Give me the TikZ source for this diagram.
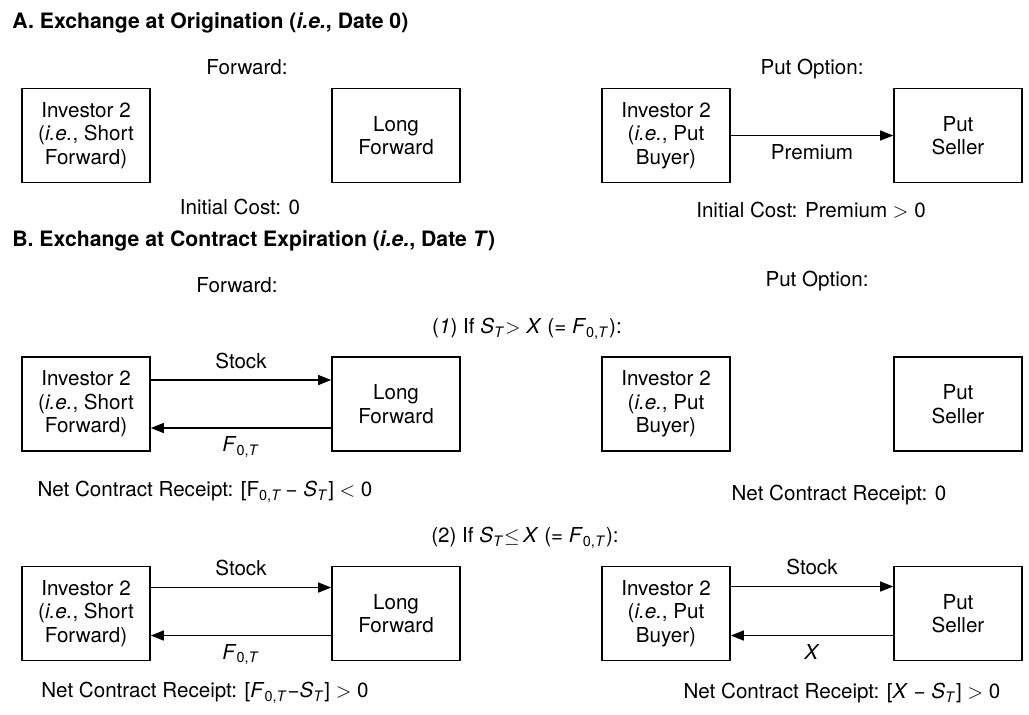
\documentclass[tikz,border=0pt]{standalone}
\usepackage{fontspec}
\setmainfont{TeX Gyre Heros}
\usetikzlibrary{arrows.meta}
\newcommand{\bodyfont}{\fontsize{10.3}{11.8}\selectfont}
\newcommand{\headfont}{\fontsize{10.6}{12}\selectfont\bfseries}
\newcommand{\isub}[2]{\textit{#1}\textsubscript{\textit{#2}}}
\newcommand{\fwdprice}{\textit{F}\textsubscript{0,\textit{T}}}
\tikzset{
 heading/.style={anchor=west,inner sep=0,font=\headfont},
 caption/.style={inner sep=0,font=\bodyfont},
 party/.style={draw,line width=.8pt,minimum width=64pt,minimum height=47pt,inner sep=0,align=center,font=\bodyfont},
 flow/.style={line width=.6pt,-{Triangle[length=6.5pt,width=5pt]}},
 flowlabel/.style={inner sep=0,font=\bodyfont}
}
\begin{document}
\begin{tikzpicture}[x=.5pt,y=-.5pt]
\path[use as bounding box,fill=white] (0,0) rectangle (1029,714);
% A. exchange at origination
\node[heading] (titleA) at (12,23) {A. Exchange at Origination (\textit{i.e.}, Date 0)};
\node[caption] (fwdA) at (247,67) {Forward:};
\node[caption] (putA) at (812,69) {Put Option:};
\node[party] (shortA) at (86,135.5) {Investor 2\\(\textit{i.e.}, Short\\Forward)};
\node[party] (longA) at (396,135.5) {Long\\Forward};
\node[party] (buyerA) at (666,135.5) {Investor 2\\(\textit{i.e.}, Put\\Buyer)};
\node[party] (sellerA) at (958,135.5) {Put\\Seller};
\draw[flow] (buyerA) -- node[flowlabel,below=4pt] {Premium} (sellerA);
\node[caption] (costfwd) at (240,207) {Initial Cost: 0};
\node[caption] (costput) at (811,210) {Initial Cost: Premium $>$ 0};
% B. exchange at expiration
\node[heading] (titleB) at (12,241) {B. Exchange at Contract Expiration (\textit{i.e.}, Date \textit{T})};
\node[caption] (fwdB) at (237,285) {Forward:};
\node[caption] (putB) at (817,281) {Put Option:};
\node[caption] (caseone) at (527,329) {(\textit{1}) If \isub{S}{T}$>$ \textit{X} (= \fwdprice):};
% case 1
\node[party] (shortB) at (86,404) {Investor 2\\(\textit{i.e.}, Short\\Forward)};
\node[party] (longB) at (396,404) {Long\\Forward};
\node[party] (buyerB) at (666,404) {Investor 2\\(\textit{i.e.}, Put\\Buyer)};
\node[party] (sellerB) at (958,404) {Put\\Seller};
\draw[flow] ([yshift=12pt]shortB.east) -- node[flowlabel,above=5.5pt] {Stock} ([yshift=12pt]longB.west);
\draw[flow] ([yshift=-12pt]longB.west) -- node[flowlabel,below=4pt] {\fwdprice} ([yshift=-12pt]shortB.east);
\node[caption] (netfwdB) at (205,492) {Net Contract Receipt: [F\textsubscript{0,\textit{T}}\,− \isub{S}{T}] $<$ 0};
\node[caption] (netputB) at (839,495) {Net Contract Receipt: 0};
% case 2
\node[caption] (casetwo) at (525,538) {(2) If \isub{S}{T}$\leq$\,\textit{X} (= \fwdprice):};
\node[party] (shortC) at (86,613.5) {Investor 2\\(\textit{i.e.}, Short\\Forward)};
\node[party] (longC) at (396,613.5) {Long\\Forward};
\node[party] (buyerC) at (666,613.5) {Investor 2\\(\textit{i.e.}, Put\\Buyer)};
\node[party] (sellerC) at (958,613.5) {Put\\Seller};
\draw[flow] ([yshift=13pt]shortC.east) -- node[flowlabel,above=5.5pt] {Stock} ([yshift=13pt]longC.west);
\draw[flow] ([yshift=-11pt]longC.west) -- node[flowlabel,below=4pt] {\fwdprice} ([yshift=-11pt]shortC.east);
\draw[flow] ([yshift=13.5pt]buyerC.east) -- node[flowlabel,above=5.5pt] {Stock} ([yshift=13.5pt]sellerC.west);
\draw[flow] ([yshift=-11pt]sellerC.west) -- node[flowlabel,below=4pt] {\textit{X}} ([yshift=-11pt]buyerC.east);
\node[caption] (netfwdC) at (205,693) {Net Contract Receipt: [\fwdprice−\isub{S}{T}] $>$ 0};
\node[caption] (netputC) at (842,693) {Net Contract Receipt: [\textit{X} − \isub{S}{T}] $>$ 0};
\end{tikzpicture}
\end{document}
